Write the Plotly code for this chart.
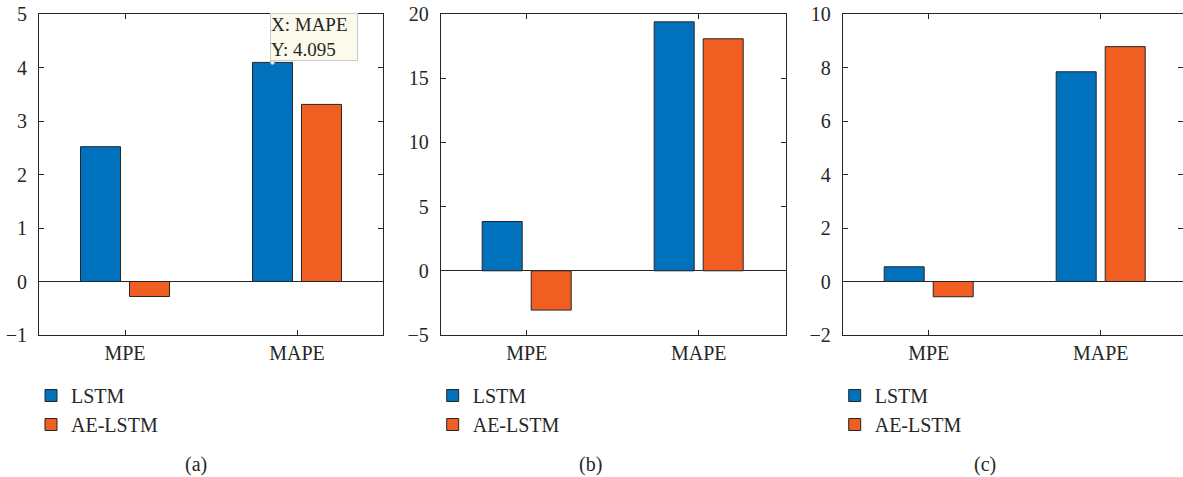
import plotly.graph_objects as go

categories = ["MPE", "MAPE"]
series_names = ["LSTM", "AE-LSTM"]
panel_a = {"LSTM": [2.52, 4.095], "AE-LSTM": [-0.28, 3.31]}
panel_b = {"LSTM": [3.84, 19.39], "AE-LSTM": [-3.06, 18.07]}
panel_c = {"LSTM": [0.55, 7.84], "AE-LSTM": [-0.57, 8.78]}
panels = [panel_a, panel_b, panel_c]
captions = ["(a)", "(b)", "(c)"]
y_ranges = [[-1, 5], [-5, 20], [-2, 10]]
y_dticks = [1, 5, 2]
tip_category = "MAPE"
tip_value = 4.095

colors = {"LSTM": "#0072BD", "AE-LSTM": "#F15E22"}
edge = "#262626"
FONT = "Liberation Serif"
W, H = 1183, 477
BARGAP = 0.43
BARGROUPGAP = 0.184

x_pos = list(range(1, len(categories) + 1))

# pixel layout
plot_left = [39, 440.7, 842.7]
plot_right = [383, 785.7, 1183]
top_px, bot_px = 14, 335
cat_px = 172.0

fig = go.Figure()
legend_names = ["legend", "legend2", "legend3"]
for i, data in enumerate(panels):
    ax = "" if i == 0 else str(i + 1)
    for name in series_names:
        fig.add_trace(go.Bar(
            x=x_pos, y=data[name], name=name,
            marker=dict(color=colors[name], line=dict(color=edge, width=1)),
            xaxis="x" + ax, yaxis="y" + ax,
            offsetgroup=name, legendgroup=name + str(i),
            legend=legend_names[i], showlegend=True,
        ))

# datatip point on the LSTM MAPE bar
tip_x = x_pos[categories.index(tip_category)] - (1 - BARGAP) / 4
fig.add_trace(go.Scatter(
    x=[tip_x], y=[tip_value], mode="markers", showlegend=False,
    marker=dict(size=4, color="#f4f4f4", line=dict(color="#aaaaaa", width=1)),
    xaxis="x", yaxis="y", hoverinfo="skip",
))

layout = dict(
    width=W, height=H, margin=dict(l=0, r=0, t=0, b=0, autoexpand=False),
    paper_bgcolor="white", plot_bgcolor="white",
    barmode="group", bargap=BARGAP, bargroupgap=BARGROUPGAP,
    font=dict(family=FONT, size=20, color=edge),
    showlegend=True,
)
ydom = [1 - bot_px / H, 1 - top_px / H]
for i in range(3):
    ax = "" if i == 0 else str(i + 1)
    width_px = plot_right[i] - plot_left[i]
    xr = [0.5, 0.5 + width_px / cat_px]
    layout["xaxis" + ax] = dict(
        domain=[plot_left[i] / W, plot_right[i] / W], range=xr,
        tickvals=x_pos, ticktext=categories,
        ticks="inside", ticklen=5, tickcolor=edge, tickwidth=1,
        showline=True, linecolor=edge, linewidth=1, mirror="ticks",
        showgrid=False, zeroline=False, anchor="y" + ax, automargin=False,
        tickfont=dict(family=FONT, size=20, color=edge), fixedrange=True,
    )
    layout["yaxis" + ax] = dict(
        domain=ydom, range=y_ranges[i], dtick=y_dticks[i], tick0=0,
        ticks="inside", ticklen=5, tickcolor=edge, tickwidth=1,
        showline=True, linecolor=edge, linewidth=1, mirror="ticks",
        showgrid=False, zeroline=True, zerolinecolor=edge, zerolinewidth=1,
        anchor="x" + ax, ticklabelstandoff=7, automargin=False,
        tickfont=dict(family=FONT, size=20, color=edge), fixedrange=True,
    )
    layout[legend_names[i]] = dict(
        x=(plot_left[i] - 8) / W, xanchor="left",
        y=1 - 376 / H, yanchor="top",
        bgcolor="rgba(0,0,0,0)", font=dict(family=FONT, size=20, color=edge),
        traceorder="grouped", tracegroupgap=0,
    )

caption_x = [195.7, 590, 985]
annotations = []
for i, c in enumerate(captions):
    annotations.append(dict(
        text=c, x=caption_x[i] / W, y=1 - 464 / H, xref="paper", yref="paper",
        showarrow=False, xanchor="center", yanchor="middle",
        font=dict(family=FONT, size=20, color=edge),
    ))
# datatip
annotations.append(dict(
    text="X: " + tip_category + "<br>Y: %.3f" % tip_value,
    x=tip_x, y=tip_value, xref="x", yref="y",
    showarrow=False, xanchor="left", yanchor="bottom", align="left",
    xshift=-2, yshift=1, width=86,
    bgcolor="#FCFAEA", bordercolor="#cccccc", borderwidth=1, borderpad=0,
    font=dict(family=FONT, size=19, color=edge),
))
layout["annotations"] = annotations

fig.update_layout(**layout)
fig.write_html("out.html", config={"displayModeBar": False},
               post_script="document.body.style.margin='0';document.body.style.overflow='hidden';")
